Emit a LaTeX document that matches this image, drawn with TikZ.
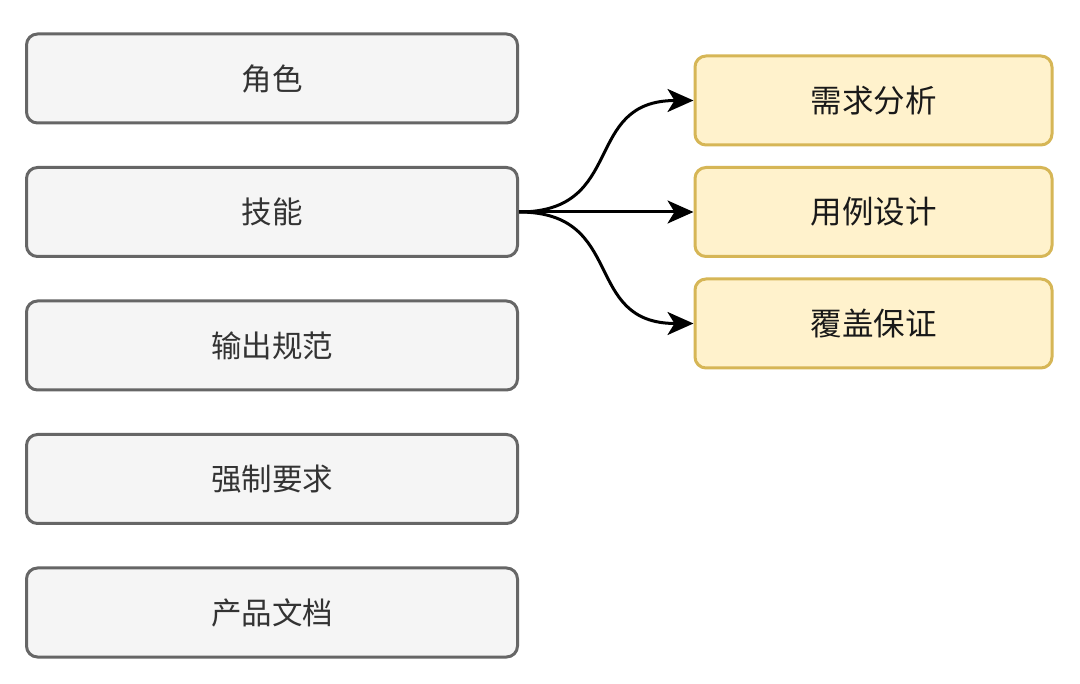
\documentclass[tikz,border=0pt]{standalone}
\usepackage{fontspec}
\setmainfont{Noto Sans CJK SC}
\usetikzlibrary{arrows.meta}
\definecolor{lfill}{HTML}{F5F5F5}
\definecolor{ldraw}{HTML}{666666}
\definecolor{rfill}{HTML}{FFF2CC}
\definecolor{rdraw}{HTML}{D6B656}
\definecolor{ltext}{HTML}{333333}
\begin{document}
\begin{tikzpicture}[x=1pt,y=-1pt,
  lbox/.style={draw=ldraw,fill=lfill,line width=3pt,rounded corners=11pt,minimum width=491pt,minimum height=89pt,inner sep=0pt,text=ltext,font=\fontsize{30.5}{34}\selectfont},
  rbox/.style={draw=rdraw,fill=rfill,line width=3pt,rounded corners=11pt,minimum width=357pt,minimum height=89pt,inner sep=0pt,text=black!90,font=\fontsize{31.5}{34}\selectfont},
  conn/.style={line width=3pt,-{Stealth[length=26pt,width=23pt,inset=7pt]}}]
\useasboundingbox[fill=white] (0,0) rectangle (1080,684);
\node[lbox] (role) at (272,78.5) {角色};
\node[lbox] (skill) at (272,212) {技能};
\node[lbox] (out) at (272,345.5) {输出规范};
\node[lbox] (req) at (272,479) {强制要求};
\node[lbox] (doc) at (272,612.5) {产品文档};
\node[rbox] (ana) at (873.5,100.5) {需求分析};
\node[rbox] (case) at (873.5,212) {用例设计};
\node[rbox] (cov) at (873.5,323.5) {覆盖保证};
\draw[conn] (skill.east) .. controls +(108,0) and +(-112,0) .. (ana.west);
\draw[conn] (skill.east) -- (case.west);
\draw[conn] (skill.east) .. controls +(108,0) and +(-112,0) .. (cov.west);
\end{tikzpicture}
\end{document}
